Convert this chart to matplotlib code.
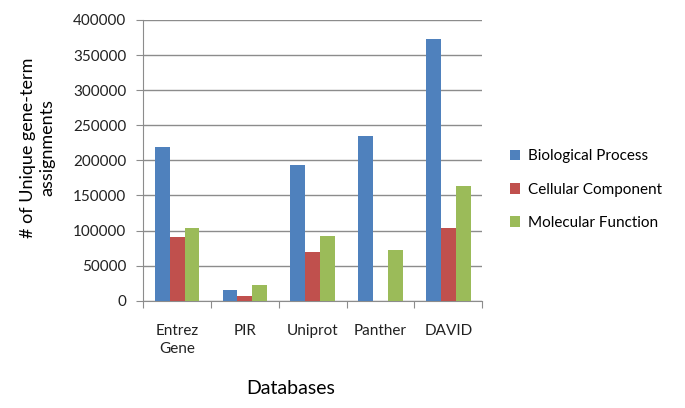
import matplotlib.pyplot as plt
import numpy as np

plt.rcParams['font.family'] = ['Lato', 'DejaVu Sans']

databases = ['Entrez\nGene', 'PIR', 'Uniprot', 'Panther', 'DAVID']
series = ['Biological Process', 'Cellular Component', 'Molecular Function']
bio_process = [219500, 15200, 193000, 234700, 373000]
cell_component = [90300, 6700, 69400, 0, 103600]
mol_function = [103600, 22800, 92200, 71700, 163400]
colors = ['#4F81BD', '#C0504D', '#9BBB59']

fig = plt.figure(figsize=(6.85, 4.08), dpi=100)
ax = fig.add_axes([0.209, 0.263, 0.495, 0.688])

x = np.arange(len(databases))
w = 0.22
for i, (name, vals) in enumerate(zip(series, [bio_process, cell_component, mol_function])):
    ax.bar(x + (i - 1) * w, vals, width=w, color=colors[i], label=name, zorder=3)

ax.set_xlim(-0.5, len(databases) - 0.5)
ax.set_ylim(0, 400000)
ax.set_yticks(np.arange(0, 400001, 50000))
ax.set_yticklabels([str(v) for v in range(0, 400001, 50000)])
ax.yaxis.grid(True, color='#8c8c8c', linewidth=1, zorder=0)

ax.set_xticks(np.arange(-0.5, len(databases), 1.0))
ax.set_xticklabels([])
ax.set_xticks(x, minor=True)
ax.set_xticklabels(databases, minor=True, linespacing=1.35)
ax.tick_params(axis='both', which='both', labelsize=11, labelcolor='#222222')
ax.tick_params(axis='x', which='major', length=5, color='#8c8c8c', direction='out')
ax.tick_params(axis='x', which='minor', length=0, pad=17)
ax.tick_params(axis='y', length=5, color='#8c8c8c', direction='out', pad=7)

for s in ['top', 'right']:
    ax.spines[s].set_visible(False)
for s in ['left', 'bottom']:
    ax.spines[s].set_color('#8c8c8c')

ax.set_ylabel('# of Unique gene-term\nassignments', fontsize=13, linespacing=1.2)
ax.yaxis.set_label_coords(-0.26, 0.544)
ax.set_xlabel('Databases', fontsize=14)
ax.xaxis.set_label_coords(0.434, -0.283)

leg = ax.legend(loc='center left', bbox_to_anchor=(1.04, 0.396), frameon=False,
                fontsize=11, handlelength=0.7, handleheight=0.7, labelspacing=1.25,
                handletextpad=0.5)

fig.savefig('out.png')
